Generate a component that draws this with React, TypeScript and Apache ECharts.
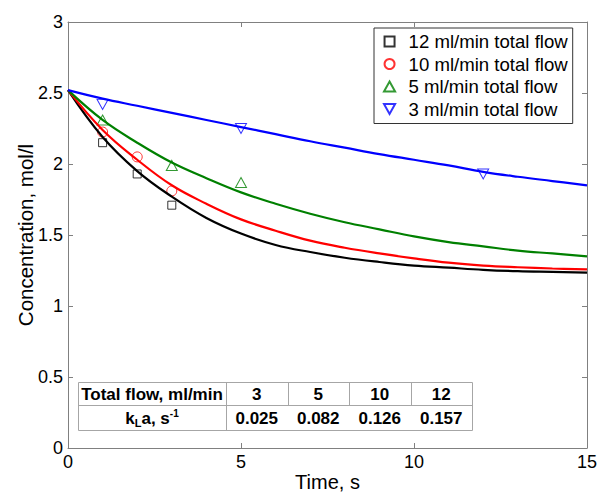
import React, { useEffect, useRef } from "react";
import * as echarts from "echarts";

const FONT = '"Liberation Sans", Arial, Helvetica, sans-serif';

// Fitted curves, time in s
const fitTime = [0, 1, 2, 3, 4, 5, 6, 7, 8, 9, 10, 11, 12, 13, 14, 15];
const fit12 = [2.52, 2.19, 1.95, 1.77, 1.62, 1.51, 1.43, 1.38, 1.34, 1.31, 1.285, 1.27, 1.255, 1.245, 1.24, 1.235];
const fit10 = [2.52, 2.24, 2.03, 1.85, 1.72, 1.61, 1.53, 1.46, 1.41, 1.37, 1.335, 1.305, 1.285, 1.273, 1.264, 1.258];
const fit5 = [2.52, 2.31, 2.15, 2.01, 1.90, 1.80, 1.72, 1.65, 1.59, 1.54, 1.49, 1.45, 1.42, 1.39, 1.37, 1.35];
const fit3 = [2.52, 2.46, 2.41, 2.36, 2.31, 2.26, 2.21, 2.16, 2.115, 2.07, 2.03, 1.99, 1.945, 1.91, 1.88, 1.85];

// Measured points
const t12 = [1, 2, 3];
const c12 = [2.15, 1.93, 1.71];
const t10 = [1, 2, 3];
const c10 = [2.225, 2.05, 1.81];
const t5 = [1, 3, 5];
const c5 = [2.31, 1.99, 1.87];
const t3 = [1, 5, 12];
const c3 = [2.42, 2.25, 1.93];

const seriesNames = [
  "12 ml/min total flow",
  "10 ml/min total flow",
  "5 ml/min total flow",
  "3 ml/min total flow",
];

// Table
const tableHeader = "Total flow, ml/min";
const tableFlows = ["3", "5", "10", "12"];
const tableKLa = ["0.025", "0.082", "0.126", "0.157"];

const zip = (xs: number[], ys: number[]) => xs.map((x, i) => [x, ys[i]]);

const SQUARE = "path://M0,0L1,0L1,1L0,1Z";
const TRI_UP = "path://M1,0L2,1.8L0,1.8Z";
const TRI_DOWN = "path://M0,0L2,0L1,1.8Z";

export default function App() {
  const ref = useRef<HTMLDivElement>(null);
  useEffect(() => {
    if (!ref.current) return;
    const chart = echarts.init(ref.current, null, { renderer: "svg" });
    const axisColor = "#808080";
    const lineSeries = (name: string, data: number[], color: string) => ({
      name,
      type: "line",
      data: zip(fitTime, data),
      smooth: 0.4,
      showSymbol: false,
      symbol: "none",
      lineStyle: { color, width: 2.2 },
      itemStyle: { color },
      z: 3,
      silent: true,
    });
    const scatterSeries = (name: string, xs: number[], ys: number[], color: string, symbol: string, size: number | number[]) => ({
      name,
      type: "scatter",
      data: zip(xs, ys),
      symbol,
      symbolSize: size,
      itemStyle: { color: "rgba(255,255,255,0)", borderColor: color, borderWidth: 1 },
      z: 2,
    });

    // table graphics
    const tL = 78, tT = 382, c0 = 148, cw = 61.5, r1 = 23, r2 = 25;
    const tW = c0 + cw * tableFlows.length;
    const gStroke = "#a6a6a6";
    const graphics: any[] = [
      { type: "rect", shape: { x: tL + 0.5, y: tT + 0.5, width: tW, height: r1 + r2 }, style: { fill: "#fff", stroke: gStroke, lineWidth: 1 }, z: 10 },
      { type: "line", shape: { x1: tL, y1: tT + r1 + 0.5, x2: tL + tW, y2: tT + r1 + 0.5 }, style: { stroke: gStroke, lineWidth: 1 }, z: 11 },
      { type: "line", shape: { x1: tL + c0 + 0.5, y1: tT, x2: tL + c0 + 0.5, y2: tT + r1 + r2 }, style: { stroke: gStroke, lineWidth: 1 }, z: 11 },
    ];
    for (let i = 1; i < tableFlows.length; i++) {
      const x = Math.round(tL + c0 + cw * i) + 0.5;
      graphics.push({ type: "line", shape: { x1: x, y1: tT, x2: x, y2: tT + r1 }, style: { stroke: gStroke, lineWidth: 1 }, z: 11 });
    }
    graphics.push({
      type: "text", x: tL + c0 / 2, y: tT + r1 / 2 + 1, z: 12,
      style: { text: tableHeader, fill: "#000", font: `bold 17px ${FONT}`, align: "center", verticalAlign: "middle" },
    });
    graphics.push({
      type: "text", x: tL + c0 / 2, y: tT + r1 + r2 / 2 + 1, z: 12,
      style: {
        text: "{m|k}{s|L}{m|a, s}{p|-1}",
        align: "center", verticalAlign: "middle",
        rich: {
          m: { fontSize: 17, fontWeight: "bold", fontFamily: FONT, lineHeight: 20, fill: "#000", color: "#000" },
          s: { fontSize: 11, fontWeight: "bold", fontFamily: FONT, lineHeight: 12, verticalAlign: "bottom", fill: "#000", color: "#000" },
          p: { fontSize: 10, fontWeight: "bold", fontFamily: FONT, lineHeight: 12, verticalAlign: "top", fill: "#000", color: "#000" },
        },
      },
    });
    tableFlows.forEach((f, i) => {
      const cx = tL + c0 + cw * i + cw / 2;
      graphics.push({ type: "text", x: cx, y: tT + r1 / 2 + 1, z: 12, style: { text: f, fill: "#000", font: `bold 17px ${FONT}`, align: "center", verticalAlign: "middle" } });
      graphics.push({ type: "text", x: cx, y: tT + r1 + r2 / 2 + 1, z: 12, style: { text: tableKLa[i], fill: "#000", font: `bold 17px ${FONT}`, align: "center", verticalAlign: "middle" } });
    });

    const option: any = {
      animation: false,
      backgroundColor: "#fff",
      textStyle: { fontFamily: FONT },
      grid: { left: 68, right: 12, top: 22, bottom: 46, containLabel: false, outerBoundsMode: "none" },
      legend: {
        data: seriesNames,
        orient: "vertical",
        left: 374,
        top: 28,
        padding: [4, 5, 5, 9],
        itemWidth: 28,
        itemHeight: 10,
        itemGap: 3.5,
        symbolKeepAspect: true,
        borderColor: "#333",
        borderWidth: 1,
        backgroundColor: "#fff",
        textStyle: { fontSize: 18.6, color: "#000", fontFamily: FONT, lineHeight: 18 },
        selectedMode: false,
        z: 20,
      },
      xAxis: [
        {
          type: "value", min: 0, max: 15, interval: 5,
          name: "Time, s", nameLocation: "middle", nameGap: 24, nameMoveOverlap: false,
          nameTextStyle: { fontSize: 20, color: "#000", fontFamily: FONT, lineHeight: 20 },
          axisLine: { show: true, onZero: false, lineStyle: { color: axisColor, width: 1 } },
          axisTick: { show: true, inside: true, length: 5, lineStyle: { color: axisColor } },
          axisLabel: { fontSize: 18, color: "#000", margin: 5, fontFamily: FONT },
          splitLine: { show: false },
        },
        {
          type: "value", min: 0, max: 15, interval: 5, position: "top",
          axisLine: { show: true, onZero: false, lineStyle: { color: axisColor, width: 1 } },
          axisTick: { show: true, inside: true, length: 5, lineStyle: { color: axisColor } },
          axisLabel: { show: false },
          splitLine: { show: false },
        },
      ],
      yAxis: [
        {
          type: "value", min: 0, max: 3, interval: 0.5,
          name: "Concentration, mol/l", nameLocation: "middle", nameGap: 32, nameRotate: 90, nameMoveOverlap: false,
          nameTextStyle: { fontSize: 20.5, color: "#000", fontFamily: FONT },
          axisLine: { show: true, onZero: false, lineStyle: { color: axisColor, width: 1 } },
          axisTick: { show: true, inside: true, length: 5, lineStyle: { color: axisColor } },
          axisLabel: { fontSize: 18, color: "#000", margin: 5, fontFamily: FONT },
          splitLine: { show: false },
        },
        {
          type: "value", min: 0, max: 3, interval: 0.5, position: "right",
          axisLine: { show: true, onZero: false, lineStyle: { color: axisColor, width: 1 } },
          axisTick: { show: true, inside: true, length: 5, lineStyle: { color: axisColor } },
          axisLabel: { show: false },
          splitLine: { show: false },
        },
      ],
      series: [
        scatterSeries(seriesNames[0], t12, c12, "#000000", SQUARE, 8),
        scatterSeries(seriesNames[1], t10, c10, "#ff0000", "circle", 10),
        scatterSeries(seriesNames[2], t5, c5, "#008000", TRI_UP, [11, 10]),
        scatterSeries(seriesNames[3], t3, c3, "#0000ff", TRI_DOWN, [11, 10]),
        lineSeries("12 ml/min fit", fit12, "#000000"),
        lineSeries("10 ml/min fit", fit10, "#ff0000"),
        lineSeries("5 ml/min fit", fit5, "#008000"),
        lineSeries("3 ml/min fit", fit3, "#0000ff"),
      ],
      graphic: graphics,
    };
    chart.setOption(option);
    return () => chart.dispose();
  }, []);
  return <div ref={ref} style={{ position: "fixed", left: 0, top: 0, width: 599, height: 494 }} />;
}
